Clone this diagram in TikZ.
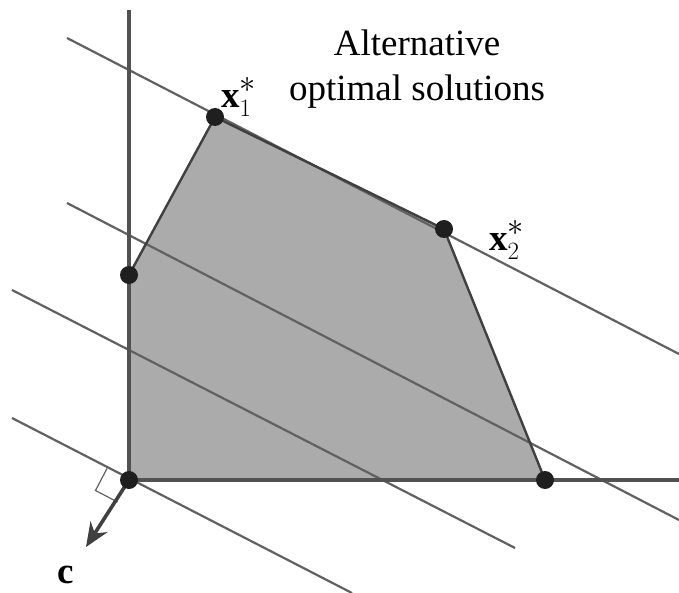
\documentclass[tikz,border=0pt]{standalone}
\usepackage{fontspec}
\setmainfont{Liberation Serif}
\usetikzlibrary{arrows.meta}
\definecolor{regionfill}{gray}{0.67}
\definecolor{isoline}{gray}{0.38}
\definecolor{axisline}{gray}{0.32}
\definecolor{edgeline}{gray}{0.25}
\definecolor{dotcol}{gray}{0.12}
\tikzset{
  iso/.style={draw=isoline, line width=2.2pt},
  axisl/.style={draw=axisline, line width=3.2pt},
  edgel/.style={draw=edgeline, line width=2.4pt},
  vdot/.style={circle, fill=dotcol, inner sep=0pt, minimum size=18pt},
  lbl/.style={inner sep=0pt, font=\fontsize{37}{45}\selectfont},
}
\newcommand{\bigstarsup}{\raisebox{6pt}{\scalebox{1.3}{$*$}}}
\begin{document}
\begin{tikzpicture}[x=1pt, y=-1pt]
\useasboundingbox (0,0) rectangle (679,593);
% vertices
\coordinate (O) at (129,480);
\coordinate (V1) at (129,275);
\coordinate (X1) at (215,117);
\coordinate (X2) at (444,229);
\coordinate (V4) at (545,480);
% feasible region
\fill[regionfill] (O) -- (V1) -- (X1) -- (X2) -- (V4) -- cycle;
% iso-profit lines
\coordinate (a1) at (67,38);   \coordinate (b1) at (679,354);
\coordinate (a2) at (67,203);  \coordinate (b2) at (679,520);
\coordinate (a3) at (12,290);  \coordinate (b3) at (515,548);
\coordinate (a4) at (12,418);  \coordinate (b4) at (352,593);
\draw[iso] (a1) -- (b1);
\draw[iso] (a2) -- (b2);
\draw[iso] (a3) -- (b3);
\draw[iso] (a4) -- (b4);
% polygon edges
\draw[edgel] (V1) -- (X1) -- (X2) -- (V4);
% axes
\coordinate (ytop) at (129,10);
\coordinate (xend) at (679,480);
\draw[axisl] (O) -- (ytop);
\draw[axisl] (O) -- (xend);
% right angle mark
\coordinate (ra) at (107,468.5);
\coordinate (rb) at (95.5,490.5);
\coordinate (rc) at (117.5,502);
\draw[isoline, line width=1.2pt] (ra) -- (rb) -- (rc);
% vector c
\coordinate (ctip) at (86,547);
\draw[draw=edgeline, line width=3.6pt, -{Stealth[length=24pt,width=20pt]}] (O) -- (ctip);
% dots
\node[vdot] (dO) at (O) {};
\node[vdot] (dV1) at (V1) {};
\node[vdot] (dX1) at (X1) {};
\node[vdot] (dX2) at (X2) {};
\node[vdot] (dV4) at (V4) {};
% labels
\node[lbl, anchor=base west] (lx1) at (221,108) {\textbf{x}$^{\bigstarsup}_{1}$};
\node[lbl, anchor=base west] (lx2) at (489,251) {\textbf{x}$^{\bigstarsup}_{2}$};
\node[lbl, anchor=base] (lc) at (66,583) {\textbf{c}};
\node[lbl, align=center, anchor=north] (alt) at (417,30) {Alternative\\optimal solutions};
\end{tikzpicture}
\end{document}
